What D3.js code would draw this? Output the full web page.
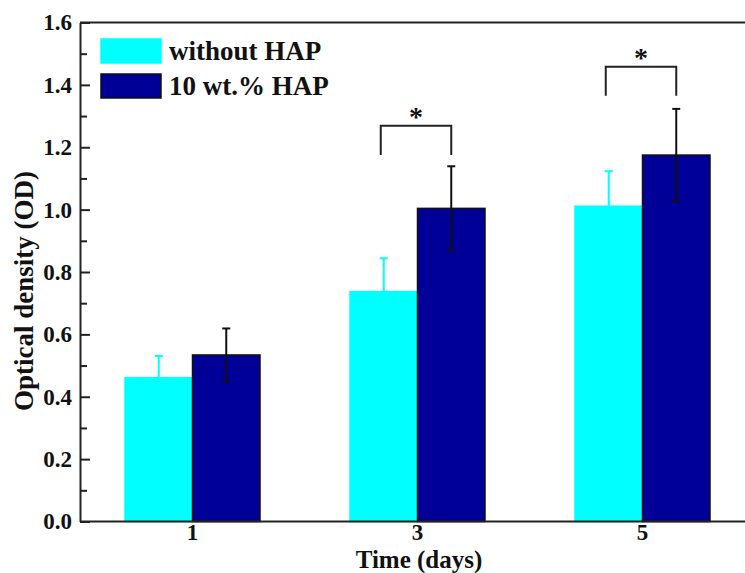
<!DOCTYPE html>
<html><head><meta charset="utf-8">
<script src="https://cdn.jsdelivr.net/npm/d3@7"></script>
<style>
html,body{margin:0;padding:0;background:#fff;}
svg{display:block;}
text{font-family:"Liberation Serif","Times New Roman",serif;font-weight:bold;fill:#111;}
</style></head>
<body>
<svg id="chart" width="745" height="573"></svg>
<script>
const days = ["1", "3", "5"];
const seriesNames = ["without HAP", "10 wt.% HAP"];
const seriesColors = ["#00FFFF", "#000099"];
const withoutHAP = [0.461, 0.737, 1.011];
const withoutHAPErr = [0.070, 0.107, 0.112];
const withHAP = [0.534, 1.004, 1.175];
const withHAPErr = [0.085, 0.135, 0.148];
const yTicks = [0.0, 0.2, 0.4, 0.6, 0.8, 1.0, 1.2, 1.4, 1.6];
const yMinorTicks = [0.1, 0.3, 0.5, 0.7, 0.9, 1.1, 1.3, 1.5];
// significance brackets: category, top value, leg bottom value
const sigDays = ["3", "5"];
const sigTop = [1.269, 1.458];
const sigLegBottom = [1.175, 1.365];

const svg = d3.select("#chart");
const L = 80, T = 22.5, B = 521.5, R = 755;

const x = d3.scaleBand().domain(days).range([L, R]).paddingInner(0.4).paddingOuter(0.2);
const xs = d3.scaleBand().domain([0, 1]).range([0, x.bandwidth()]);
const y = d3.scaleLinear().domain([0, 1.6]).range([B, T]);

const series = [
  {vals: withoutHAP, errs: withoutHAPErr, color: seriesColors[0], errColor: "#00FFFF", stroke: "#00FFFF"},
  {vals: withHAP, errs: withHAPErr, color: seriesColors[1], errColor: "#111", stroke: "#111"}
];

// bars
series.forEach((s, si) => {
  const g = svg.append("g");
  g.selectAll("rect").data(days).join("rect")
    .attr("x", d => x(d) + xs(si))
    .attr("y", (d, i) => y(s.vals[i]))
    .attr("width", xs.bandwidth())
    .attr("height", (d, i) => y(0) - y(s.vals[i]))
    .attr("fill", s.color)
    .attr("stroke", s.stroke)
    .attr("stroke-width", 1.5);
});

// error bars
series.forEach((s, si) => {
  const g = svg.append("g").attr("stroke", s.errColor).attr("stroke-width", 2);
  days.forEach((d, i) => {
    const cx = x(d) + xs(si) + xs.bandwidth() / 2;
    const hi = y(s.vals[i] + s.errs[i]), lo = y(s.vals[i] - s.errs[i]);
    g.append("line").attr("x1", cx).attr("x2", cx).attr("y1", hi).attr("y2", lo);
    g.append("line").attr("x1", cx - 4).attr("x2", cx + 4).attr("y1", hi).attr("y2", hi);
    g.append("line").attr("x1", cx - 4).attr("x2", cx + 4).attr("y1", lo).attr("y2", lo);
  });
});

// axes frame
svg.append("line").attr("x1", L).attr("x2", R).attr("y1", B).attr("y2", B).attr("stroke", "#222").attr("stroke-width", 2);
svg.append("line").attr("x1", L).attr("x2", R).attr("y1", T).attr("y2", T).attr("stroke", "#222").attr("stroke-width", 2);

const yAxis = d3.axisLeft(y).tickValues(yTicks).tickFormat(d3.format(".1f")).tickSizeInner(-10).tickSizeOuter(0).tickPadding(8);
const ya = svg.append("g").attr("transform", `translate(${L},0)`).call(yAxis);
ya.select(".domain").attr("stroke", "#222").attr("stroke-width", 2);
ya.selectAll(".tick line").attr("stroke", "#222").attr("stroke-width", 2);
ya.selectAll(".tick text").attr("font-size", 23).attr("font-family", "Liberation Serif, serif").attr("font-weight", "bold").attr("fill", "#111");

const yMinor = d3.axisLeft(y).tickValues(yMinorTicks).tickFormat("").tickSizeInner(-7).tickSizeOuter(0);
const ym = svg.append("g").attr("transform", `translate(${L},0)`).call(yMinor);
ym.select(".domain").remove();
ym.selectAll(".tick line").attr("stroke", "#222").attr("stroke-width", 2);

const xAxis = d3.axisBottom(x).tickSize(0).tickPadding(2);
const xa = svg.append("g").attr("transform", `translate(0,${B})`).call(xAxis);
xa.select(".domain").remove();
xa.selectAll(".tick text").attr("font-size", 23).attr("font-family", "Liberation Serif, serif").attr("font-weight", "bold").attr("fill", "#111");

// axis titles
svg.append("text").attr("x", 419).attr("y", 567.8).attr("text-anchor", "middle").attr("font-size", 25).text("Time (days)");
svg.append("text").attr("transform", "translate(33,291) rotate(-90)").attr("text-anchor", "middle").attr("font-size", 27).text("Optical density (OD)");

// significance brackets
const sg = svg.append("g").attr("stroke", "#222").attr("stroke-width", 2).attr("fill", "none");
sigDays.forEach((d, i) => {
  const x1 = x(d) + xs(0) + xs.bandwidth() / 2 - 3;
  const x2 = x(d) + xs(1) + xs.bandwidth() / 2;
  const yt = y(sigTop[i]), yb = y(sigLegBottom[i]);
  sg.append("path").attr("d", `M${x1},${yb}V${yt}H${x2}V${yb}`);
  svg.append("text").attr("x", (x1 + x2) / 2).attr("y", yt).attr("text-anchor", "middle").attr("font-size", 28).text("*");
});

// legend
const lg = svg.append("g");
seriesNames.forEach((n, i) => {
  const ly = 39 + i * 35;
  lg.append("rect").attr("x", 101).attr("y", ly).attr("width", 60).attr("height", 24).attr("fill", seriesColors[i])
    .attr("stroke", i === 0 ? "#00FFFF" : "#111").attr("stroke-width", 1.5);
  lg.append("text").attr("x", 169).attr("y", ly + 21).attr("font-size", 27).text(n);
});
</script>
</body></html>
